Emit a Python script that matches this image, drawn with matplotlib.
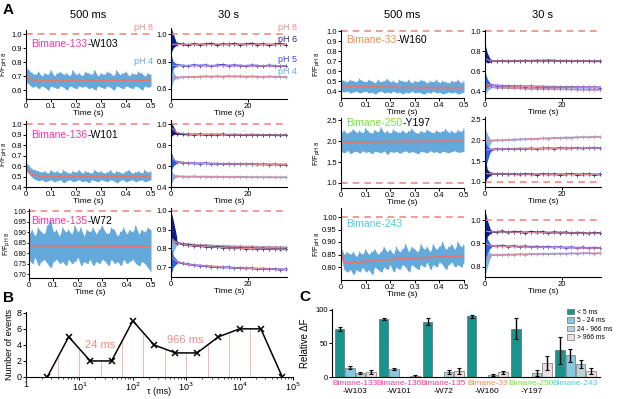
import matplotlib.pyplot as plt
import numpy as np
from matplotlib.patches import Patch
from matplotlib.ticker import FormatStrFormatter

plt.rcParams['font.family'] = ['Liberation Sans', 'DejaVu Sans']
plt.rcParams['axes.linewidth'] = 0.8

# ---------------- panel A data ----------------
# 500 ms stopped-flow traces: upper / lower edge of the noisy trace + fit
hi133 = [0.76,0.74,0.72,0.71,0.73,0.70,0.72,0.71,0.74,0.70,0.72,0.73,0.71,0.72,0.70,0.74,0.71,0.72,0.70,0.73,0.72,
         0.71,0.74,0.70,0.72,0.71,0.73,0.72,0.70,0.74,0.71,0.72,0.73,0.70,0.72,0.71,0.73,0.72,0.70,0.72,0.71]
lo133 = [0.66,0.64,0.62,0.63,0.61,0.63,0.62,0.60,0.63,0.62,0.61,0.63,0.62,0.60,0.63,0.62,0.61,0.63,0.62,0.63,0.61,
         0.62,0.60,0.63,0.62,0.61,0.63,0.62,0.60,0.63,0.62,0.61,0.63,0.62,0.61,0.63,0.62,0.60,0.63,0.62,0.63]
fit133_t = [0, 0.01, 0.02, 0.03, 0.05, 0.5]
fit133 = [0.71, 0.69, 0.676, 0.67, 0.668, 0.67]

hi136 = [0.64,0.60,0.57,0.56,0.55,0.54,0.55,0.53,0.56,0.54,0.55,0.53,0.56,0.54,0.53,0.55,0.54,0.56,0.53,0.55,0.54,
         0.53,0.56,0.54,0.55,0.53,0.54,0.56,0.53,0.55,0.54,0.53,0.55,0.56,0.53,0.54,0.55,0.53,0.56,0.54,0.55]
lo136 = [0.56,0.52,0.49,0.47,0.46,0.47,0.45,0.46,0.47,0.45,0.46,0.47,0.44,0.46,0.47,0.45,0.46,0.47,0.45,0.46,0.44,
         0.47,0.46,0.45,0.47,0.46,0.45,0.47,0.46,0.44,0.46,0.47,0.45,0.46,0.47,0.45,0.46,0.47,0.45,0.46,0.47]
fit136_t = [0, 0.01, 0.02, 0.03, 0.05, 0.08, 0.5]
fit136 = [0.58, 0.55, 0.53, 0.515, 0.505, 0.5, 0.5]

hi135 = [0.89,0.91,0.88,0.92,0.90,0.89,0.93,0.96,0.90,0.91,0.88,0.92,0.90,0.91,0.89,0.93,0.90,0.92,0.88,0.91,0.90,
         0.92,0.89,0.91,0.93,0.90,0.89,0.92,0.91,0.88,0.90,0.92,0.89,0.91,0.90,0.93,0.89,0.91,0.90,0.92,0.91]
lo135 = [0.77,0.75,0.78,0.74,0.76,0.77,0.75,0.73,0.76,0.77,0.75,0.76,0.74,0.77,0.75,0.76,0.78,0.74,0.76,0.75,0.77,
         0.74,0.76,0.75,0.77,0.76,0.74,0.77,0.75,0.76,0.74,0.77,0.75,0.76,0.77,0.75,0.74,0.76,0.75,0.73,0.71]
fit135_t = [0, 0.5]
fit135 = [0.835, 0.832]

hi33 = [0.52,0.50,0.49,0.51,0.50,0.49,0.52,0.50,0.49,0.51,0.50,0.48,0.51,0.49,0.50,0.52,0.49,0.50,0.48,0.51,0.50,
        0.49,0.51,0.48,0.50,0.49,0.51,0.50,0.48,0.50,0.49,0.51,0.48,0.50,0.49,0.48,0.50,0.49,0.51,0.48,0.50]
lo33 = [0.40,0.39,0.40,0.38,0.39,0.40,0.38,0.39,0.40,0.38,0.39,0.37,0.39,0.40,0.38,0.39,0.38,0.40,0.38,0.39,0.37,
        0.39,0.38,0.40,0.38,0.39,0.38,0.37,0.39,0.38,0.40,0.38,0.39,0.37,0.38,0.39,0.38,0.39,0.37,0.38,0.39]
fit33_t = [0, 0.1, 0.2, 0.3, 0.5]
fit33 = [0.452, 0.444, 0.438, 0.435, 0.432]

hi250 = [2.20,2.25,2.18,2.22,2.28,2.20,2.24,2.19,2.30,2.22,2.18,2.26,2.21,2.32,2.20,2.24,2.18,2.27,2.22,2.20,2.25,
         2.19,2.23,2.29,2.21,2.18,2.24,2.20,2.27,2.22,2.19,2.25,2.21,2.23,2.28,2.20,2.24,2.19,2.26,2.22,2.30]
lo250 = [1.75,1.72,1.78,1.70,1.74,1.76,1.71,1.77,1.73,1.75,1.70,1.76,1.74,1.72,1.77,1.68,1.75,1.73,1.76,1.71,1.74,
         1.77,1.72,1.75,1.73,1.70,1.76,1.74,1.72,1.77,1.73,1.75,1.71,1.76,1.74,1.72,1.75,1.77,1.73,1.74,1.76]
fit250_t = [0, 0.25, 0.5]
fit250 = [1.97, 1.99, 2.0]

hi243 = [0.88,0.85,0.86,0.85,0.86,0.84,0.86,0.85,0.87,0.85,0.86,0.87,0.85,0.86,0.88,0.86,0.87,0.85,0.88,0.86,0.87,
         0.89,0.86,0.88,0.87,0.86,0.89,0.87,0.88,0.86,0.89,0.87,0.88,0.90,0.87,0.88,0.89,0.87,0.90,0.88,0.89]
lo243 = [0.84,0.79,0.78,0.79,0.77,0.79,0.78,0.80,0.78,0.79,0.77,0.80,0.79,0.78,0.80,0.79,0.81,0.78,0.80,0.79,0.81,
         0.80,0.78,0.81,0.80,0.79,0.81,0.80,0.82,0.79,0.81,0.80,0.82,0.81,0.79,0.81,0.82,0.80,0.81,0.80,0.82]
fit243_t = [0, 0.01, 0.02, 0.05, 0.1, 0.2, 0.3, 0.4, 0.5]
fit243 = [0.87, 0.83, 0.816, 0.818, 0.822, 0.83, 0.836, 0.84, 0.845]

# 30 s traces (pH 6, pH 5, pH 4): sampled raw values, fit, early-spike envelope
slow_t = np.arange(1.5, 30.1, 1.5)
fit_t = [0.3, 1.5, 5, 15, 30]
spike_t = [0, 0.6, 1.5]

s133_ph6 = [0.93,0.925,0.92,0.928,0.922,0.926,0.93,0.921,0.927,0.924,0.929,0.922,0.926,0.93,0.923,0.927,0.921,0.925,0.928,0.922]
s133_ph5 = [0.775,0.77,0.768,0.774,0.77,0.773,0.767,0.772,0.776,0.769,0.773,0.77,0.767,0.772,0.769,0.766,0.771,0.768,0.765,0.768]
s133_ph4 = [0.682,0.685,0.688,0.686,0.69,0.692,0.689,0.693,0.69,0.694,0.691,0.693,0.689,0.692,0.69,0.688,0.691,0.689,0.687,0.688]
f133 = [[0.925, 0.925, 0.925, 0.925, 0.924], [0.772, 0.771, 0.77, 0.769, 0.768], [0.68, 0.685, 0.69, 0.69, 0.688]]
sp133_hi = [[1.05, 1.0, 0.93], [0.85, 0.8, 0.78], [0.8, 0.72, 0.69]]
sp133_lo = [[0.86, 0.9, 0.92], [0.7, 0.75, 0.77], [0.6, 0.66, 0.68]]

s136_ph6 = [0.91,0.905,0.902,0.9,0.903,0.898,0.901,0.899,0.902,0.897,0.9,0.898,0.896,0.899,0.897,0.895,0.898,0.896,0.894,0.897]
s136_ph5 = [0.64,0.632,0.628,0.626,0.624,0.627,0.622,0.623,0.62,0.622,0.618,0.62,0.617,0.619,0.615,0.617,0.614,0.616,0.613,0.614]
s136_ph4 = [0.502,0.5,0.498,0.501,0.497,0.499,0.496,0.498,0.495,0.497,0.494,0.496,0.495,0.493,0.495,0.492,0.494,0.491,0.493,0.492]
f136 = [[0.96, 0.92, 0.902, 0.899, 0.897], [0.68, 0.64, 0.627, 0.62, 0.613], [0.505, 0.5, 0.498, 0.495, 0.492]]
sp136_hi = [[1.03, 0.98, 0.92], [0.74, 0.68, 0.64], [0.58, 0.53, 0.505]]
sp136_lo = [[0.88, 0.9, 0.91], [0.55, 0.6, 0.63], [0.43, 0.47, 0.5]]

s135_ph6 = [0.83,0.822,0.818,0.814,0.812,0.81,0.806,0.808,0.804,0.803,0.801,0.802,0.799,0.8,0.797,0.799,0.796,0.797,0.795,0.796]
s135_ph5 = [0.728,0.72,0.715,0.71,0.708,0.705,0.703,0.7,0.698,0.699,0.695,0.696,0.693,0.694,0.69,0.692,0.689,0.69,0.687,0.688]
s135_ph4 = [0.83,0.826,0.822,0.82,0.817,0.818,0.815,0.813,0.814,0.812,0.81,0.811,0.809,0.81,0.808,0.807,0.809,0.806,0.807,0.805]
f135 = [[0.85, 0.83, 0.815, 0.802, 0.795], [0.75, 0.73, 0.712, 0.697, 0.687], [0.83, 0.828, 0.82, 0.811, 0.805]]
sp135_hi = [[1.0, 0.95, 0.86], [0.8, 0.76, 0.74], [0.95, 0.88, 0.84]]
sp135_lo = [[0.85, 0.84, 0.83], [0.66, 0.7, 0.72], [0.7, 0.78, 0.82]]

s33_ph6 = [0.7,0.698,0.702,0.697,0.701,0.699,0.703,0.7,0.704,0.702,0.705,0.703,0.7,0.702,0.698,0.701,0.699,0.7,0.697,0.699]
s33_ph5 = [0.458,0.455,0.452,0.45,0.448,0.447,0.445,0.446,0.443,0.444,0.441,0.442,0.44,0.438,0.44,0.437,0.438,0.436,0.437,0.435]
s33_ph4 = [0.438,0.434,0.432,0.43,0.428,0.426,0.425,0.423,0.424,0.421,0.42,0.419,0.418,0.417,0.416,0.415,0.414,0.413,0.412,0.412]
f33 = [[0.72, 0.7, 0.7, 0.7, 0.7], [0.47, 0.458, 0.45, 0.442, 0.435], [0.445, 0.437, 0.43, 0.42, 0.412]]
sp33_hi = [[0.87, 0.78, 0.71], [0.6, 0.52, 0.47], [0.5, 0.46, 0.44]]
sp33_lo = [[0.7, 0.68, 0.69], [0.42, 0.44, 0.45], [0.36, 0.4, 0.43]]

s250_ph6 = [1.2,1.19,1.195,1.185,1.19,1.18,1.19,1.185,1.175,1.19,1.18,1.185,1.175,1.18,1.19,1.175,1.18,1.185,1.175,1.18]
s250_ph5 = [1.77,1.785,1.78,1.79,1.785,1.795,1.79,1.8,1.79,1.8,1.805,1.795,1.81,1.8,1.805,1.81,1.8,1.81,1.815,1.805]
s250_ph4 = [1.98,1.995,1.99,2.005,2.01,2.015,2.02,2.03,2.025,2.04,2.035,2.05,2.045,2.06,2.055,2.065,2.07,2.065,2.08,2.075]
f250 = [[1.2, 1.195, 1.19, 1.183, 1.18], [1.76, 1.78, 1.785, 1.8, 1.81], [1.98, 1.99, 2.0, 2.04, 2.08]]
sp250_hi = [[1.6, 1.3, 1.22], [2.0, 1.85, 1.79], [2.3, 2.15, 2.0]]
sp250_lo = [[1.0, 1.1, 1.17], [1.3, 1.5, 1.76], [1.5, 1.7, 1.96]]

s243_ph6 = [0.951,0.948,0.952,0.947,0.95,0.949,0.946,0.95,0.947,0.949,0.945,0.948,0.946,0.947,0.944,0.946,0.945,0.943,0.946,0.944]
s243_ph5 = [0.89,0.888,0.891,0.887,0.889,0.886,0.888,0.885,0.887,0.884,0.886,0.883,0.885,0.882,0.884,0.881,0.883,0.88,0.882,0.88]
s243_ph4 = [0.85,0.852,0.851,0.853,0.852,0.854,0.853,0.855,0.854,0.856,0.855,0.856,0.857,0.856,0.858,0.857,0.858,0.859,0.857,0.859]
f243 = [[0.952, 0.95, 0.949, 0.946, 0.944], [0.9, 0.89, 0.887, 0.884, 0.88], [0.84, 0.85, 0.852, 0.856, 0.859]]
sp243_hi = [[1.04, 1.0, 0.955], [0.97, 0.92, 0.895], [0.92, 0.88, 0.855]]
sp243_lo = [[0.9, 0.93, 0.945], [0.82, 0.86, 0.885], [0.76, 0.8, 0.845]]

# ---------------- panel B data ----------------
tau_ms = [2.5, 6.3, 16, 40, 100, 250, 630, 1600, 4000, 10000, 25000, 63000]
n_events = [0, 5, 2, 2, 7, 4, 3, 3, 5, 6, 6, 0]

# ---------------- panel C data ----------------
c_names = ['Bimane-133', 'Bimane-136', 'Bimane-135', 'Bimane-33', 'Bimane-250', 'Bimane-243']
c_sites = ['-W103', '-W101', '-W72', '-W160', '-Y197', '']
c_classes = ['< 5 ms', '5 - 24 ms', '24 - 966 ms', '> 966 ms']
dF_fast = [71, 86, 82, 90, 72, 40]
dF_fast_err = [3, 2, 5, 2, 16, 20]
dF_mid1 = [14, 12, 0, 0, 0, 32]
dF_mid1_err = [2, 1.5, 0, 0, 0, 9]
dF_mid2 = [6, 0, 8, 3, 6, 19]
dF_mid2_err = [1, 0, 3, 1, 5, 6]
dF_slow = [8, 1.5, 9, 7, 21, 9]
dF_slow_err = [3, 1, 5, 2, 10, 5]

# ---------------- colours ----------------
SALMON = '#f08a84'
NOISE = '#64a9dc'
FITRED = '#e5766c'
TRACE = ['#2a2a78', '#5b4ad0', '#a9a6d4']
SPIKE = ['#0b1f8f', '#2563eb', '#7fb6e6']
FITPINK = '#d98c98'
MAGENTA, ORANGE, GREEN, CYAN = '#ec3aa0', '#f28c4e', '#78e03c', '#46d0d4'
BAR_COLS = ['#17958c', '#86c8e2', '#b8d2d6', '#ecdde2']

W, H = 617, 399
fig = plt.figure(figsize=(W / 100, H / 100), dpi=100)


def px_axes(x0, y0, x1, y1):
    return fig.add_axes([x0 / W, 1 - y1 / H, (x1 - x0) / W, (y1 - y0) / H])


def style(ax, size=5.5):
    for s in ('top', 'right'):
        ax.spines[s].set_visible(False)
    ax.tick_params(labelsize=size, length=2, width=0.7, pad=1)


def fast_panel(ax, hi, lo, ft, fy, ylim, yticks, fmt, lab_x, lab_size=5.5):
    n = len(hi)
    t = np.linspace(0, 0.5, n)
    dt = t[1] - t[0]
    xs = np.empty(2 * n)
    ys = np.empty(2 * n)
    xs[0::2], xs[1::2] = t, t + dt / 2
    ys[0::2], ys[1::2] = hi, lo
    ax.fill_between(t, lo, hi, color=NOISE, lw=0)
    ax.plot(xs, ys, color=NOISE, lw=0.7)
    ax.plot(ft, fy, color=FITRED, lw=1.3)
    ax.axhline(1.0, color=SALMON, lw=1.2, ls=(0, (4, 3)))
    ax.set_xlim(0, 0.5)
    ax.set_ylim(*ylim)
    ax.set_yticks(yticks)
    ax.yaxis.set_major_formatter(FormatStrFormatter(fmt))
    ax.set_xticks([0, 0.1, 0.2, 0.3, 0.4, 0.5], ['0', '0.1', '0.2', '0.3', '0.4', '0.5'])
    ax.set_xlabel('Time (s)', fontsize=6, labelpad=0)
    ax.set_ylabel('F/F$_{\\rm pH\\ 8}$', fontsize=lab_size)
    ax.yaxis.set_label_coords(lab_x, 0.5)
    style(ax)


def slow_panel(ax, raws, fits, sp_hi, sp_lo, ylim, yticks, fmt):
    for k in (2, 1, 0):
        ax.fill_between(spike_t, sp_lo[k], sp_hi[k], color=SPIKE[k], lw=0)
    for k in (2, 1, 0):
        ax.plot(slow_t, raws[k], color=TRACE[k], lw=1.4, marker='+', ms=2.5, mew=0.6)
        ax.plot(fit_t, fits[k], color=FITPINK, lw=0.8)
    ax.axhline(1.0, color=SALMON, lw=1.2, ls=(0, (4, 3)))
    ax.set_xlim(0, 30.2)
    ax.set_ylim(*ylim)
    ax.set_yticks(yticks)
    ax.yaxis.set_major_formatter(FormatStrFormatter(fmt))
    ax.set_xticks([0, 20], ['0', '20'])
    ax.set_xlabel('Time (s)', fontsize=6, labelpad=0)
    style(ax)


# left group
ax = px_axes(26, 30, 151, 99)
fast_panel(ax, hi133, lo133, fit133_t, fit133, (0.536, 1.03), [0.6, 0.7, 0.8, 0.9, 1.0], '%.1f', -0.13)
ax = px_axes(171, 28, 287, 99)
slow_panel(ax, [s133_ph6, s133_ph5, s133_ph4], f133, sp133_hi, sp133_lo, (0.527, 1.044), [0.6, 0.8, 1.0], '%.1f')

ax = px_axes(26, 121, 151, 187)
fast_panel(ax, hi136, lo136, fit136_t, fit136, (0.4, 1.03), [0.4, 0.5, 0.6, 0.7, 0.8, 0.9, 1.0], '%.1f', -0.13)
ax = px_axes(171, 120, 287, 187)
slow_panel(ax, [s136_ph6, s136_ph5, s136_ph4], f136, sp136_hi, sp136_lo, (0.4, 1.04), [0.4, 0.6, 0.8, 1.0], '%.1f')

ax = px_axes(29, 209, 151, 278)
fast_panel(ax, hi135, lo135, fit135_t, fit135, (0.681, 1.01), [0.70, 0.75, 0.80, 0.85, 0.90, 0.95, 1.00], '%.2f',
           -0.13, 5.2)
ax.tick_params(axis='y', labelsize=4.8, pad=0.5, length=1.5)
ax = px_axes(171, 208, 287, 277)
slow_panel(ax, [s135_ph6, s135_ph5, s135_ph4], f135, sp135_hi, sp135_lo, (0.647, 1.016), [0.7, 0.8, 0.9, 1.0], '%.1f')

# right group
ax = px_axes(341, 30, 464, 98)
fast_panel(ax, hi33, lo33, fit33_t, fit33, (0.33, 1.01), [0.4, 0.5, 0.6, 0.7, 0.8, 0.9, 1.0], '%.1f', -0.15)
ax = px_axes(485, 30, 601, 98)
slow_panel(ax, [s33_ph6, s33_ph5, s33_ph4], f33, sp33_hi, sp33_lo, (0.33, 1.01), [0.4, 0.6, 0.8, 1.0], '%.1f')

ax = px_axes(341, 118, 464, 188)
fast_panel(ax, hi250, lo250, fit250_t, fit250, (0.88, 2.55), [1.0, 1.5, 2.0, 2.5], '%.1f', -0.15)
ax = px_axes(485, 117, 601, 187)
slow_panel(ax, [s250_ph6, s250_ph5, s250_ph4], f250, sp250_hi, sp250_lo, (0.88, 2.55), [1.0, 1.5, 2.0, 2.5], '%.1f')

ax = px_axes(341, 208, 464, 280)
fast_panel(ax, hi243, lo243, fit243_t, fit243, (0.748, 1.036), [0.80, 0.85, 0.90, 0.95, 1.00], '%.2f', -0.15)
ax = px_axes(485, 210, 601, 277)
slow_panel(ax, [s243_ph6, s243_ph5, s243_ph4], f243, sp243_hi, sp243_lo, (0.757, 1.043), [0.8, 0.9, 1.0], '%.1f')

# titles, labels
for x, s in [(88, '500 ms'), (229, '30 s'), (402, '500 ms'), (543, '30 s')]:
    fig.text(x / W, 1 - 15 / H, s, ha='center', va='center', fontsize=8)
fig.text(8 / W, 1 - 10 / H, 'A', fontsize=11, fontweight='bold', va='center', ha='center')
fig.text(8 / W, 1 - 298 / H, 'B', fontsize=11, fontweight='bold', va='center', ha='center')
fig.text(305 / W, 1 - 297 / H, 'C', fontsize=11, fontweight='bold', va='center', ha='center')

for x, y, name, col, site in [(31, 44, 'Bimane-133', MAGENTA, '-W103'), (31, 135, 'Bimane-136', MAGENTA, '-W101'),
                              (31, 221, 'Bimane-135', MAGENTA, '-W72'), (346, 40, 'Bimane-33', ORANGE, '-W160'),
                              (346, 123, 'Bimane-250', GREEN, '-Y197'), (346, 224, 'Bimane-243', CYAN, '')]:
    t1 = fig.text(x / W, 1 - y / H, name, color=col, fontsize=7.5, va='center')
    if site:
        fig.add_artist(plt.Annotation(site, xy=(1, 0.5), xycoords=t1, va='center', ha='left',
                                      fontsize=7.5, color='black'))

for x, y, s, col in [(153, 28, 'pH 8', SALMON), (153, 62, 'pH 4', NOISE), (297, 28, 'pH 8', SALMON),
                     (297, 39, 'pH 6', TRACE[0]), (297, 60, 'pH 5', '#3b4fd8'), (297, 71, 'pH 4', NOISE)]:
    fig.text(x / W, 1 - y / H, s, color=col, fontsize=6.5, ha='right', va='center')

# ---------------- panel B ----------------
axb = px_axes(26, 312, 293, 377)
tau = np.array(tau_ms, dtype=float)
cnt = np.array(n_events, dtype=float)
edges = np.sqrt(tau[:-1] * tau[1:])[:10]
heights = ((cnt[:-1] + cnt[1:]) / 2)[:10]
axb.vlines(edges, 0, heights, color='#f4b6b6', lw=0.7)
axb.plot(tau, cnt, color='black', lw=1.1, marker='x', ms=5, mew=1.1)
axb.set_xscale('log')
axb.set_xlim(1, 1e5)
axb.set_ylim(0, 8.1)
axb.set_yticks([0, 2, 4, 6, 8])
axb.set_xticks([1, 10, 100, 1000, 1e4, 1e5], ['1', '10$^1$', '10$^2$', '10$^3$', '10$^4$', '10$^5$'])
axb.set_xlabel('τ (ms)', fontsize=6.5, va='center')
axb.xaxis.set_label_coords(0.5, -0.22)
axb.set_ylabel('Number of events', fontsize=6.5, labelpad=2)
style(axb, 6.5)
axb.tick_params(axis='x', pad=0.5)
axb.tick_params(which='minor', length=1.2, width=0.5)
axb.text(24, 4.0, '24 ms', color=SALMON, fontsize=8, ha='center', va='center')
axb.text(966, 4.6, '966 ms', color=SALMON, fontsize=8, ha='center', va='center')

# ---------------- panel C ----------------
axc = px_axes(332, 309, 600, 377)
x = np.arange(len(c_names))
step, bw = 0.235, 0.212
series = [(dF_fast, dF_fast_err), (dF_mid1, dF_mid1_err), (dF_mid2, dF_mid2_err), (dF_slow, dF_slow_err)]
handles = []
for k, (vals, errs) in enumerate(series):
    xs = x + (k - 1.5) * step
    vals = np.array(vals, dtype=float)
    errs = np.array(errs, dtype=float)
    keep = vals > 0
    axc.bar(xs[keep], vals[keep], width=bw, color=BAR_COLS[k], edgecolor='#555555', lw=0.4)
    axc.errorbar(xs[keep], vals[keep], yerr=errs[keep], fmt='none', ecolor='black', elinewidth=1.0,
                 capsize=1.5, capthick=0.8)
    handles.append(Patch(facecolor=BAR_COLS[k], edgecolor='#555555', lw=0.4, label=c_classes[k]))
axc.set_xlim(-0.53, 5.56)
axc.set_ylim(0, 101)
axc.set_yticks([0, 50, 100])
axc.set_xticks([])
axc.set_ylabel('Relative ΔF', fontsize=7, labelpad=4)
style(axc)
name_cols = [MAGENTA, MAGENTA, MAGENTA, ORANGE, GREEN, CYAN]
for i in range(len(c_names)):
    axc.text(x[i], -0.09, c_names[i], color=name_cols[i], fontsize=6, ha='center', va='center',
             transform=axc.get_xaxis_transform())
    axc.text(x[i], -0.22, c_sites[i], color='black', fontsize=6, ha='center', va='center',
             transform=axc.get_xaxis_transform())
axc.legend(handles=handles, loc='upper right', bbox_to_anchor=(1.06, 1.06), fontsize=4.8, frameon=False,
           handlelength=1.1, handleheight=0.9, labelspacing=0.2, borderaxespad=0.2, handletextpad=0.4)

fig.savefig('out.png', dpi=100)
